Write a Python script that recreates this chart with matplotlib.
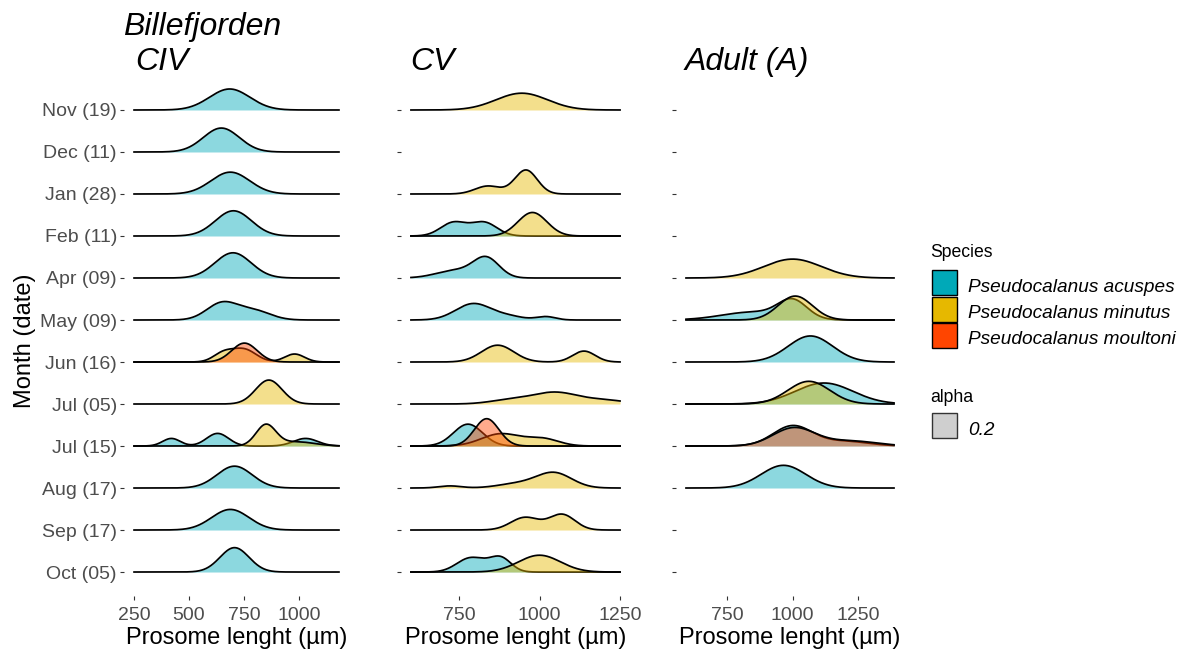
import numpy as np
import matplotlib
matplotlib.use("Agg")
import matplotlib.pyplot as plt
from matplotlib.patches import Rectangle

plt.rcParams["font.family"] = ["Liberation Sans", "DejaVu Sans"]

# row labels, top to bottom
months = ["Nov (19)", "Dec (11)", "Jan (28)", "Feb (11)", "Apr (09)", "May (09)",
          "Jun (16)", "Jul (05)", "Jul (15)", "Aug (17)", "Sep (17)", "Oct (05)"]
species = ["Pseudocalanus acuspes", "Pseudocalanus minutus", "Pseudocalanus moultoni"]
colors = ["#00A9B8", "#E6B800", "#FF4500"]

# ridge shapes: (centre um, spread um, scaled height)
civ_acuspes = {
    "Nov (19)": [(685, 92, 0.50)],
    "Dec (11)": [(647, 82, 0.57)],
    "Jan (28)": [(688, 88, 0.52)],
    "Feb (11)": [(702, 82, 0.60)],
    "Apr (09)": [(700, 82, 0.60)],
    "May (09)": [(650, 70, 0.40), (795, 75, 0.22)],
    "Jul (15)": [(420, 40, 0.18), (630, 50, 0.30), (1030, 55, 0.18)],
    "Aug (17)": [(707, 80, 0.52)],
    "Sep (17)": [(688, 85, 0.49)],
    "Oct (05)": [(707, 66, 0.58)],
}
civ_minutus = {
    "Jun (16)": [(655, 45, 0.20), (750, 55, 0.30), (980, 45, 0.19)],
    "Jul (05)": [(863, 60, 0.57)],
    "Jul (15)": [(850, 45, 0.50), (990, 80, 0.10)],
}
civ_moultoni = {
    "Jun (16)": [(752, 58, 0.45)],
}

cv_acuspes = {
    "Feb (11)": [(733, 40, 0.32), (828, 40, 0.32)],
    "Apr (09)": [(835, 40, 0.46), (740, 60, 0.18)],
    "May (09)": [(795, 55, 0.39), (905, 45, 0.08), (1020, 30, 0.08)],
    "Jul (15)": [(778, 45, 0.52)],
    "Oct (05)": [(785, 42, 0.33), (835, 30, 0.05), (880, 32, 0.33)],
}
cv_minutus = {
    "Nov (19)": [(945, 80, 0.40)],
    "Jan (28)": [(840, 40, 0.19), (958, 35, 0.57)],
    "Feb (11)": [(978, 45, 0.56)],
    "Jun (16)": [(870, 50, 0.40), (1138, 35, 0.26)],
    "Jul (05)": [(900, 60, 0.08), (1048, 75, 0.28), (1210, 60, 0.08)],
    "Jul (15)": [(880, 60, 0.29), (1010, 50, 0.17)],
    "Aug (17)": [(722, 35, 0.05), (930, 60, 0.10), (1045, 55, 0.36)],
    "Sep (17)": [(955, 44, 0.30), (1070, 40, 0.37)],
    "Oct (05)": [(1000, 65, 0.40)],
}
cv_moultoni = {
    "Jul (15)": [(836, 38, 0.65)],
}

a_acuspes = {
    "May (09)": [(850, 120, 0.19), (1000, 55, 0.42)],
    "Jun (16)": [(1068, 85, 0.62)],
    "Jul (05)": [(1120, 110, 0.50)],
    "Jul (15)": [(1000, 75, 0.48), (1200, 90, 0.11)],
    "Aug (17)": [(965, 85, 0.54)],
}
a_minutus = {
    "Apr (09)": [(1000, 110, 0.45)],
    "May (09)": [(1010, 65, 0.57)],
    "Jul (05)": [(1062, 80, 0.54)],
}
a_moultoni = {
    "Jul (15)": [(1005, 80, 0.43), (1220, 100, 0.12)],
}

W, H = 1187, 650
fig = plt.figure(figsize=(W / 100, H / 100), dpi=100)


def px_axes(left, right, top, bottom):
    return fig.add_axes([left / W, 1 - bottom / H, (right - left) / W, (bottom - top) / H])


panels = [
    ("CIV", [civ_acuspes, civ_minutus, civ_moultoni], (250, 1182), (123.8, 349.2), [250, 500, 750, 1000]),
    ("CV", [cv_acuspes, cv_minutus, cv_moultoni], (601, 1250), (400.5, 630.5), [750, 1000, 1250]),
    ("Adult (A)", [a_acuspes, a_minutus, a_moultoni], (593, 1387), (675.6, 904.4), [750, 1000, 1250]),
]

n = len(months)
for p, (title, groups, (lo, hi), (left, right), xt) in enumerate(panels):
    ax = px_axes(left, right, 80, 596)
    pad = 0.05 * (hi - lo)
    ax.set_xlim(lo - pad, hi + pad)
    ax.set_ylim(-0.571, n - 1 + 0.714)
    x = np.linspace(lo, hi, 800)
    for i, m in enumerate(months):
        base = n - 1 - i
        for k, g in enumerate(groups):
            if m not in g:
                continue
            d = np.zeros_like(x)
            for c, s, h in g[m]:
                d += h * np.exp(-0.5 * ((x - c) / s) ** 2)
            ax.fill_between(x, base, base + d, color=colors[k], alpha=0.45, lw=0, zorder=2 + i)
            ax.plot(x, base + d, color="black", lw=1.25, zorder=2 + i)
    ax.set_yticks([n - 1 - i for i in range(n)])
    ax.set_yticklabels(months if p == 0 else [""] * n)
    ax.set_xticks(xt)
    ax.set_xticklabels([str(v) for v in xt])
    ax.tick_params(axis="both", direction="out", length=2.7, width=0.8, color="#333333",
                   labelsize=14, labelcolor="#4D4D4D", pad=2.2)
    ax.tick_params(axis="x", pad=5.5)
    for sp in ax.spines.values():
        sp.set_visible(False)
    ax.set_facecolor("none")
    fig.text((left + right) / 2 / W, 1 - 644 / H, "Prosome lenght (µm)", fontsize=17,
             ha="center", va="baseline", color="black")
    tx = {0: 135, 1: 410, 2: 685}[p]
    fig.text(tx / W, 1 - 70 / H, title, fontsize=23, style="italic", ha="left", va="baseline")

fig.text(123 / W, 1 - 35 / H, "Billefjorden", fontsize=23, style="italic", ha="left", va="baseline")
fig.text(25 / W, 1 - 341 / H, "Month (date)", fontsize=17, rotation=90, ha="center", va="center")

# legend
fig.text(930 / W, 1 - 257 / H, "Species", fontsize=12.7, ha="left", va="baseline")
key_tops = [270, 296.5, 323]
baselines = [291.5, 318, 344.5]
for k, sp in enumerate(species):
    fig.add_artist(Rectangle((932 / W, 1 - (key_tops[k] + 25) / H), 25 / W, 25 / H,
                             transform=fig.transFigure, facecolor=colors[k],
                             edgecolor="black", lw=1.0))
    fig.text(968 / W, 1 - baselines[k] / H, sp, fontsize=13.7, style="italic",
             ha="left", va="baseline")
fig.text(930 / W, 1 - 402 / H, "alpha", fontsize=12.7, ha="left", va="baseline")
fig.add_artist(Rectangle((932 / W, 1 - 438 / H), 25 / W, 25 / H, transform=fig.transFigure,
                         facecolor="#CFCFCF", edgecolor="#333333", lw=1.0))
fig.text(968 / W, 1 - 435 / H, "0.2", fontsize=13.7, style="italic", ha="left", va="baseline")

fig.savefig("out.png", dpi=100, facecolor="white")
